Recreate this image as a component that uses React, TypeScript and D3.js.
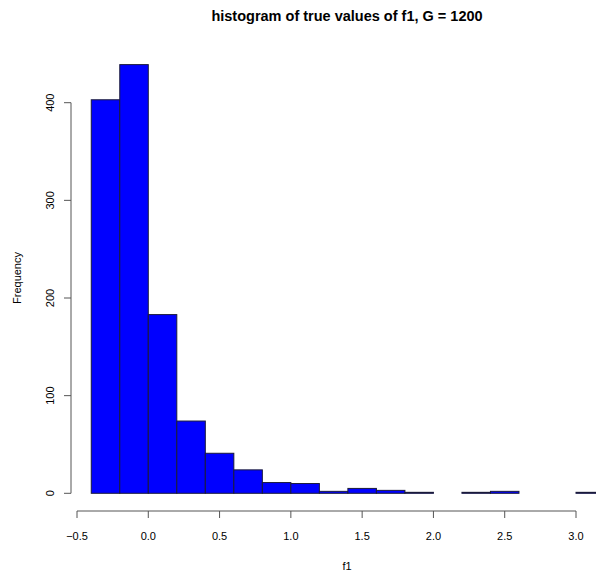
import React from "react";
import * as d3 from "d3";

// bin edges of the histogram (width 0.2) and the counts in each bin
const binStarts = [-0.4, -0.2, 0.0, 0.2, 0.4, 0.6, 0.8, 1.0, 1.2, 1.4, 1.6, 1.8, 2.0, 2.2, 2.4, 2.6, 2.8, 3.0];
const binWidth = 0.2;
const counts = [403, 439, 183, 74, 41, 24, 11, 10, 2, 5, 3, 1, 0, 1, 2, 0, 0, 1];
const xTicks = [-0.5, 0.0, 0.5, 1.0, 1.5, 2.0, 2.5, 3.0];
const yTicks = [0, 100, 200, 300, 400];

const W = 596;
const H = 573;
const font = "'Liberation Sans', Arial, Helvetica, sans-serif";

const App = () => {
  const x = d3.scaleLinear().domain([-0.5, 3.0]).range([77, 576]);
  const y = d3.scaleLinear().domain([0, 400]).range([493.3, 102.7]);

  const axisY = 511; // x axis line
  const axisX = 71; // y axis line

  return (
    <svg
      width={W}
      height={H}
      style={{ position: "absolute", left: 0, top: 0, background: "#fff" }}
      fontFamily={font}
    >
      <text x={347} y={20.5} textAnchor="middle" fontSize={14.5} fontWeight="bold">
        histogram of true values of f1, G = 1200
      </text>

      {/* bars */}
      {binStarts.map((b, i) => (
        <rect
          key={i}
          x={x(b)}
          y={y(counts[i])}
          width={x(b + binWidth) - x(b)}
          height={y(0) - y(counts[i])}
          fill="#0000ff"
          stroke={counts[i] === 0 ? "#777" : "#1a1a3a"}
          strokeWidth={1}
        />
      ))}

      {/* x axis */}
      <line x1={x(xTicks[0])} x2={x(xTicks[xTicks.length - 1])} y1={axisY} y2={axisY} stroke="#555" />
      {xTicks.map((t) => (
        <g key={t}>
          <line x1={x(t)} x2={x(t)} y1={axisY} y2={axisY + 7} stroke="#555" />
          <text x={x(t)} y={axisY + 29} textAnchor="middle" fontSize={11}>
            {t < 0 ? "\u2212" + Math.abs(t).toFixed(1) : t.toFixed(1)}
          </text>
        </g>
      ))}
      <text x={347} y={570} textAnchor="middle" fontSize={11}>
        f1
      </text>

      {/* y axis */}
      <line x1={axisX} x2={axisX} y1={y(0)} y2={y(400)} stroke="#555" />
      {yTicks.map((t) => (
        <g key={t}>
          <line x1={axisX} x2={axisX - 7} y1={y(t)} y2={y(t)} stroke="#555" />
          <text
            transform={`translate(${axisX - 17},${y(t)}) rotate(-90)`}
            textAnchor="middle"
            fontSize={11}
          >
            {t}
          </text>
        </g>
      ))}
      <text
        transform={`translate(21,${278}) rotate(-90)`}
        textAnchor="middle"
        fontSize={11}
      >
        Frequency
      </text>
    </svg>
  );
};

export default App;
